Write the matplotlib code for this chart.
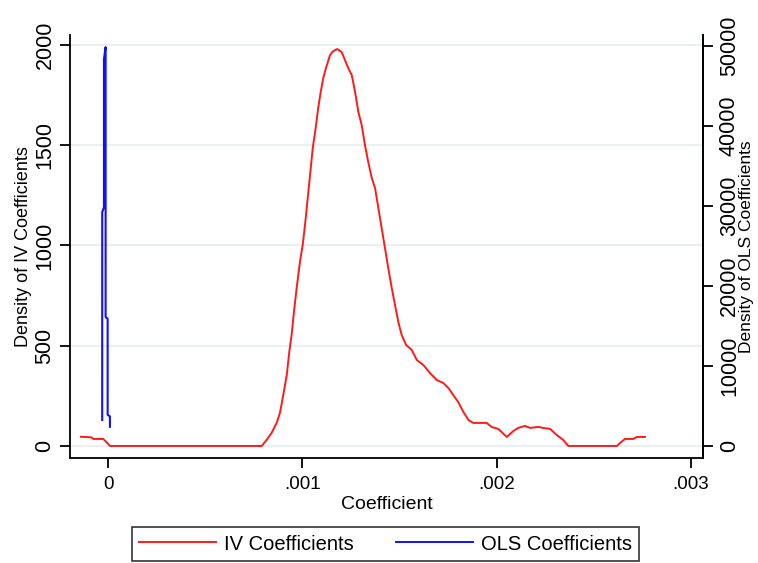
import matplotlib
matplotlib.use("Agg")
import matplotlib.pyplot as plt
from matplotlib.lines import Line2D

plt.rcParams['font.family'] = ['Liberation Sans', 'DejaVu Sans']

# Kernel density of IV coefficient estimates
iv_coef = [-0.0001418, -0.0000866, -0.0000784, -0.0000268, -0.0000010, 0.0000077,
           0.000790, 0.000815, 0.000841, 0.000867, 0.000884, 0.000901, 0.000919,
           0.000932, 0.000944, 0.000956, 0.000970, 0.000987, 0.001001, 0.001013,
           0.001025, 0.001039, 0.001053, 0.001068, 0.001081, 0.001094, 0.001107,
           0.001121, 0.001142, 0.001159, 0.001179, 0.001202, 0.001219, 0.001236,
           0.001254, 0.001271, 0.001288, 0.001305, 0.001322, 0.001339, 0.001357,
           0.001374, 0.001391, 0.001408, 0.001425, 0.001442, 0.001460, 0.001477,
           0.001494, 0.001511, 0.001534, 0.001563, 0.001589, 0.001623, 0.001657,
           0.001692, 0.001726, 0.001752, 0.001777, 0.001803, 0.001829, 0.001855,
           0.001880, 0.001949, 0.001975, 0.002009, 0.002053, 0.002087, 0.002112,
           0.002147, 0.002173, 0.002215, 0.002241, 0.002276, 0.002310, 0.002344,
           0.002370, 0.002620, 0.002637, 0.002662, 0.002705, 0.002723, 0.002765]
iv_density = [46, 43, 35, 35, 10, 0,
              0, 30, 65, 115, 165, 254, 354,
              469, 554, 668, 788, 918, 1002, 1102,
              1217, 1352, 1486, 1586, 1686, 1766, 1835,
              1885, 1950, 1970, 1980, 1965, 1925, 1885,
              1850, 1766, 1666, 1601, 1501, 1416, 1337,
              1287, 1187, 1087, 988, 888, 788, 703,
              618, 554, 504, 479, 429, 404, 364,
              329, 314, 289, 254, 219, 170, 130,
              115, 115, 95, 85, 45, 75, 90,
              100, 90, 95, 90, 85, 55, 30,
              0, 0, 15, 35, 35, 45, 45]

# Kernel density of OLS coefficient estimates (very narrow spike near zero)
ols_coef = [-3.20e-5, -3.19e-5, -2.31e-5, -2.30e-5, -1.45e-5, -1.44e-5,
            -0.41e-5, -0.40e-5, 0.77e-5, 0.78e-5]
ols_density = [3250, 29200, 29800, 48300, 49800, 16100,
               15900, 3900, 3700, 2400]

x_ticks = [0, 0.001, 0.002, 0.003]
x_tick_labels = ["0", ".001", ".002", ".003"]
iv_ticks = [0, 500, 1000, 1500, 2000]
ols_ticks = [0, 10000, 20000, 30000, 40000, 50000]

RED = "#ff1a1a"
BLUE = "#1010ff"
GRID = "#e6eef0"
FS = 13.5        # horizontal text
FS_ROT = 15.5    # rotated tick labels
FS_YLAB = 12.5   # rotated axis titles

fig = plt.figure(figsize=(7.58, 5.63), dpi=100)
ax = fig.add_axes([70 / 758, (563 - 458) / 563, (703 - 70) / 758, (458 - 35) / 563])
ax2 = ax.twinx()

ax.plot(iv_coef, iv_density, color=RED, lw=1.4, zorder=3)
ax2.plot(ols_coef, ols_density, color=BLUE, lw=1.5, zorder=3)

ax.set_xlim(-0.000198, 0.003064)
ax.set_ylim(-60, 2050)
ax2.set_ylim(-1498, 51311)

ax.set_xticks(x_ticks)
ax.set_xticklabels(x_tick_labels, fontsize=FS)
ax.set_yticks(iv_ticks)
ax.set_yticklabels([str(v) for v in iv_ticks], fontsize=FS_ROT, rotation=90, va='center')
ax2.set_yticks(ols_ticks)
ax2.set_yticklabels([str(v) for v in ols_ticks], fontsize=FS_ROT, rotation=90, va='center')

for v in iv_ticks:
    ax.axhline(v, color=GRID, lw=1.2, zorder=0)

for a in (ax, ax2):
    a.spines['top'].set_visible(False)
    for s in a.spines.values():
        s.set_linewidth(1.3)
    a.tick_params(direction='out', length=7, width=1.3)
ax.tick_params(axis='x', pad=6)
ax.tick_params(axis='y', pad=3.5)
ax2.tick_params(axis='y', pad=4.5)
ax2.spines['left'].set_visible(False)
ax2.spines['bottom'].set_visible(False)

ax.set_xlabel("Coefficient", fontsize=14, labelpad=2)
ax.set_ylabel("Density of IV Coefficients", fontsize=13)
ax.yaxis.set_label_coords((32 - 70) / 633, 0.5)
ax2.set_ylabel("Density of OLS Coefficients", fontsize=FS_YLAB, rotation=90)
ax2.yaxis.set_label_coords((739 - 70) / 633, 0.5)

handles = [Line2D([], [], color=RED, lw=1.4), Line2D([], [], color=BLUE, lw=1.4)]
leg = fig.legend(handles, ["IV Coefficients", "OLS Coefficients"],
                 loc='center', bbox_to_anchor=(385.5 / 758, 1 - 544 / 563),
                 ncol=2, frameon=True, fancybox=False, fontsize=14.5,
                 handlelength=3.8, columnspacing=2.1, handletextpad=0.4,
                 borderpad=0.35)
leg.get_frame().set_edgecolor('black')
leg.get_frame().set_linewidth(1.2)

fig.savefig("out.png", dpi=100)
